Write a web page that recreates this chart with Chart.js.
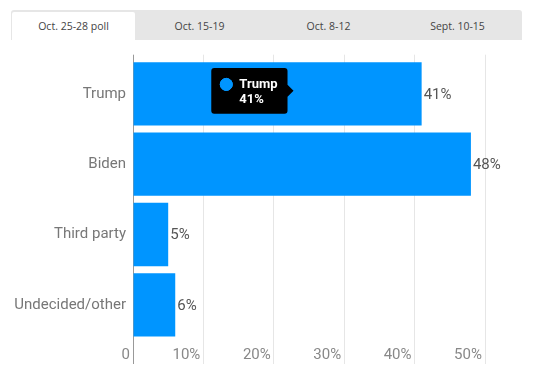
<!DOCTYPE html>
<html lang="en">
    <head>
        <meta charset="UTF-8">
        <title>Poll - Trump vs Biden</title>
        <style>
            body { margin: 0; background: #fff; }
            #wrap { position: relative; width: 560px; height: 374px; overflow: hidden; }
            #chart { position: absolute; left: 0; top: 0; }
            #tabs {
                position: absolute; left: 11px; top: 10px; width: 511px; height: 30px;
                background: #e6e6e6; border-radius: 3px 3px 0 0; display: flex;
                font-family: 'Open Sans', sans-serif; font-size: 10.5px; color: #444;
            }
            #tabs div { flex: 1; display: flex; align-items: center; justify-content: center; margin-top: 2px; }
            #tabs div.active { flex: 0 0 123px; background: #fff; margin-left: 1px; border-radius: 2px 2px 0 0; }
        </style>
    </head>

    <body>
        <div id="wrap">
            <canvas id="chart" width="560" height="374"></canvas>
            <div id="tabs"></div>
        </div>
    </body>

<script src="https://cdn.jsdelivr.net/npm/chart.js"></script>

<script>
    const tabLabels = ['Oct. 25-28 poll', 'Oct. 15-19', 'Oct. 8-12', 'Sept. 10-15'];
    const categories = ['Trump', 'Biden', 'Third party', 'Undecided/other'];
    const shares = [41, 48, 5, 6];
    const tickValues = [0, 10, 20, 30, 40, 50];

    var tabs = document.getElementById('tabs');
    tabLabels.forEach((t, i) => {
        var d = document.createElement('div');
        d.textContent = t;
        if (i === 0) d.className = 'active';
        tabs.appendChild(d);
    });

    const BLUE = '#0095ff';
    const tipAt = 22.8; // where the pointer sat over the Trump bar

    Chart.Tooltip.positioners.pinned = function(elements) {
        if (!elements.length) return false;
        var el = elements[0].element;
        return { x: this.chart.scales.x.getPixelForValue(tipAt), y: el.y - 3 };
    };

    // value labels at the end of each bar
    const valueLabels = {
        id: 'valueLabels',
        afterDatasetsDraw(chart) {
            const ctx = chart.ctx;
            ctx.save();
            ctx.font = '15px Roboto';
            ctx.fillStyle = '#555';
            ctx.textBaseline = 'middle';
            chart.getDatasetMeta(0).data.forEach((bar, i) => {
                ctx.fillText(shares[i] + '%', bar.x + 2, bar.y + 1);
            });
            ctx.restore();
        }
    };

    const gridColor = (c) => (c.tick && c.tick.value === 0) ? '#999' : '#e6e6e6';

    var chart = new Chart('chart', {
        type: 'bar',
        data: {
            labels: categories,
            datasets: [{
                data: shares,
                backgroundColor: BLUE,
                borderWidth: 0,
                categoryPercentage: 1,
                barPercentage: 0.9,
                pointStyle: 'circle'
            }]
        },
        options: {
            indexAxis: 'y',
            responsive: false,
            animation: false,
            events: [],
            layout: { padding: { top: 54.7, right: 75, bottom: 0, left: 0 } },
            plugins: {
                legend: { display: false },
                tooltip: {
                    position: 'pinned',
                    xAlign: 'right',
                    yAlign: 'center',
                    backgroundColor: '#000',
                    cornerRadius: 3,
                    caretSize: 6,
                    caretPadding: 0,
                    padding: { top: 9, bottom: 7, left: 9, right: 10 },
                    bodyFont: { family: 'Roboto', size: 13, weight: 'bold', lineHeight: 1.15 },
                    bodyColor: '#fff',
                    bodySpacing: 0,
                    usePointStyle: true,
                    boxWidth: 12,
                    boxHeight: 12,
                    boxPadding: 5,
                    multiKeyBackground: BLUE,
                    callbacks: {
                        title: () => [],
                        label: (c) => [c.label, c.parsed.x + '%'],
                        labelColor: () => ({ borderColor: BLUE, backgroundColor: BLUE }),
                        labelPointStyle: () => ({ pointStyle: 'circle', rotation: 0 })
                    }
                }
            },
            scales: {
                x: {
                    min: 0,
                    max: 50,
                    afterFit: (s) => { s.height = 34; },
                    border: { display: false },
                    grid: { color: gridColor, tickLength: 24 },
                    ticks: {
                        stepSize: 10,
                        align: 'end',
                        padding: -17.5,
                        color: '#888',
                        font: { family: 'Roboto', size: 15 },
                        // thin space keeps the label clear of its grid line
                        callback: (v) => tickValues.includes(v) ? (v === 0 ? '0' : v + '%') + '\u2009' : ''
                    }
                },
                x2: {
                    position: 'top',
                    min: 0,
                    max: 50,
                    afterFit: (s) => { s.height = 4; },
                    border: { display: false },
                    grid: { color: gridColor, tickLength: 4, drawOnChartArea: false },
                    ticks: { stepSize: 10, display: false }
                },
                y: {
                    afterFit: (s) => { s.width = 133; },
                    border: { display: true, color: '#999', width: 1 },
                    grid: { drawOnChartArea: false, drawTicks: false },
                    ticks: {
                        padding: 7,
                        color: '#777',
                        font: { family: 'Roboto', size: 15 }
                    }
                }
            }
        },
        plugins: [valueLabels]
    });

    chart.tooltip.setActiveElements([{ datasetIndex: 0, index: 0 }], { x: 0, y: 0 });
    chart.update();
</script>

</html>
